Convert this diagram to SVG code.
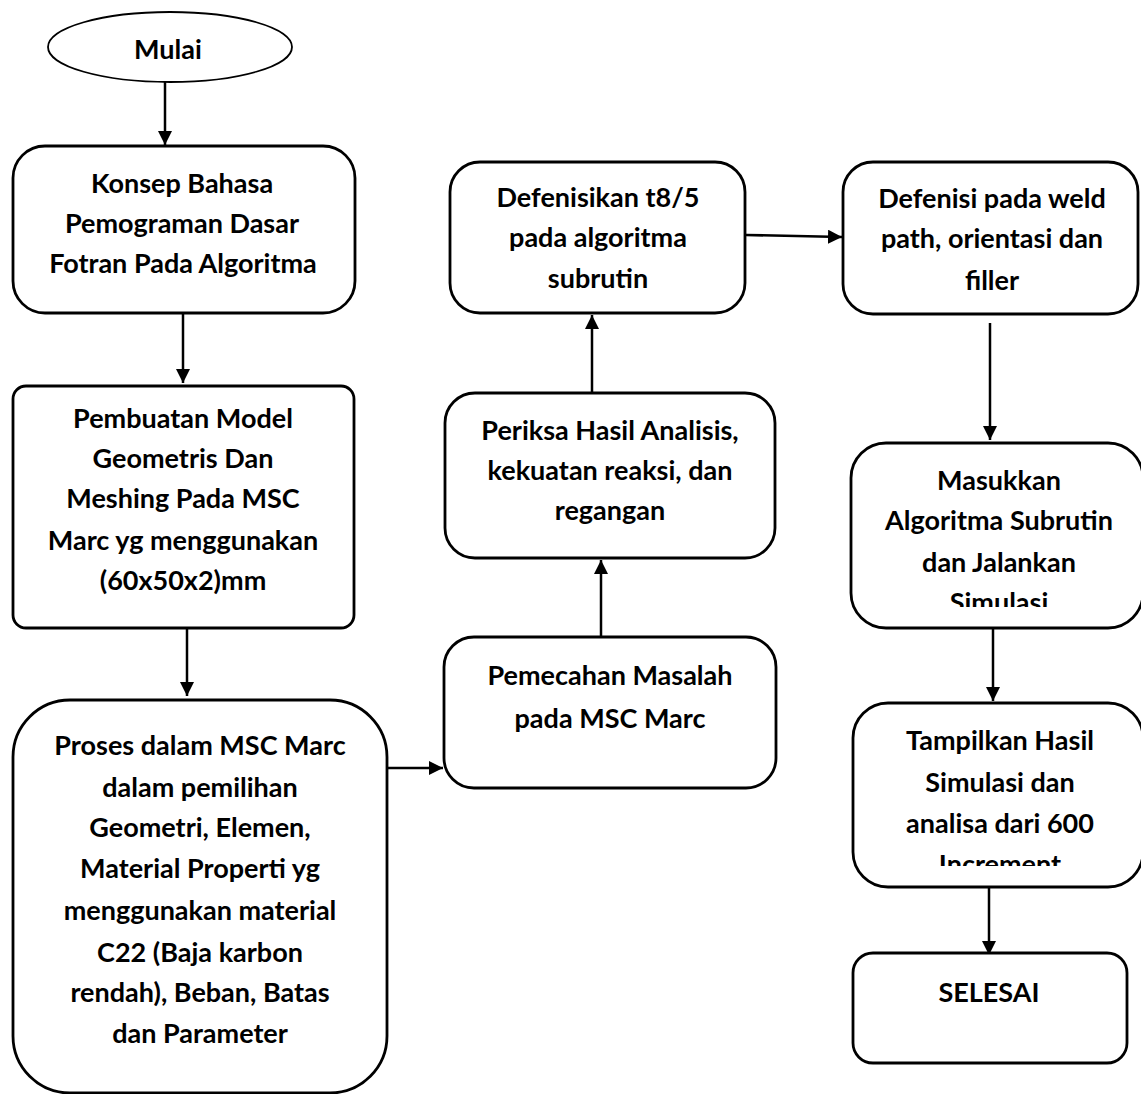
<svg xmlns="http://www.w3.org/2000/svg" width="1141" height="1094" viewBox="0 0 1141 1094">
<style>
.box{fill:#fff;stroke:#000;stroke-width:2.8}
.t{font-family:"Lato","Open Sans",sans-serif;font-weight:bold;font-size:27px;text-anchor:middle;fill:#000}
.c{stroke:#000;stroke-width:2.5;fill:none}
</style>
<defs>
<marker id="ah" viewBox="0 0 14 14" refX="14" refY="7" markerWidth="14" markerHeight="14" markerUnits="userSpaceOnUse" orient="auto">
<path d="M0,0 L14,7 L0,14 Z" fill="#000"/>
</marker>
<clipPath id="clip8"><rect x="851" y="443" width="290" height="164"/></clipPath>
<clipPath id="clip9"><rect x="853" y="703" width="288" height="163"/></clipPath>
</defs>
<rect width="1141" height="1094" fill="#fff"/>
<g id="connectors">
<line class="c" x1="165" y1="82" x2="165" y2="145" marker-end="url(#ah)"/>
<line class="c" x1="183" y1="313" x2="183" y2="383" marker-end="url(#ah)"/>
<line class="c" x1="187" y1="628" x2="187" y2="696" marker-end="url(#ah)"/>
<line class="c" x1="387" y1="768" x2="443" y2="768" marker-end="url(#ah)"/>
<line class="c" x1="601" y1="637" x2="601" y2="560" marker-end="url(#ah)"/>
<line class="c" x1="592" y1="393" x2="592" y2="315" marker-end="url(#ah)"/>
<line class="c" x1="746" y1="235" x2="842" y2="237" marker-end="url(#ah)"/>
<line class="c" x1="990" y1="323" x2="990" y2="440" marker-end="url(#ah)"/>
<line class="c" x1="993" y1="628" x2="993" y2="701" marker-end="url(#ah)"/>
<line class="c" x1="989" y1="887" x2="989" y2="955" marker-end="url(#ah)"/>
</g>
<g id="mulai">
<ellipse class="box" cx="170" cy="47" rx="122" ry="35" style="stroke-width:1.8"/>
<text class="t" x="168" y="59">Mulai</text>
</g>
<g id="konsep">
<rect class="box" x="13" y="146" width="342" height="167" rx="32"/>
<text class="t" x="182" y="193">Konsep Bahasa</text>
<text class="t" x="182" y="233">Pemograman Dasar</text>
<text class="t" x="183" y="273">Fotran Pada Algoritma</text>
</g>
<g id="pembuatan">
<rect class="box" x="13" y="386" width="341" height="242" rx="13"/>
<text class="t" x="183" y="428">Pembuatan Model</text>
<text class="t" x="183" y="468">Geometris Dan</text>
<text class="t" x="183" y="508">Meshing Pada MSC</text>
<text class="t" x="183" y="550">Marc yg menggunakan</text>
<text class="t" x="183" y="590">(60x50x2)mm</text>
</g>
<g id="proses">
<rect class="box" x="13" y="700" width="374" height="393" rx="57"/>
<text class="t" x="200" y="755">Proses dalam MSC Marc</text>
<text class="t" x="200" y="797">dalam pemilihan</text>
<text class="t" x="200" y="837">Geometri, Elemen,</text>
<text class="t" x="200" y="878">Material Properti yg</text>
<text class="t" x="200" y="920">menggunakan material</text>
<text class="t" x="200" y="962">C22 (Baja karbon</text>
<text class="t" x="200" y="1002">rendah), Beban, Batas</text>
<text class="t" x="200" y="1043">dan Parameter</text>
</g>
<g id="pemecahan">
<rect class="box" x="444" y="637" width="332" height="151" rx="30"/>
<text class="t" x="610" y="685">Pemecahan Masalah</text>
<text class="t" x="610" y="728">pada MSC Marc</text>
</g>
<g id="periksa">
<rect class="box" x="445" y="393" width="330" height="165" rx="30"/>
<text class="t" x="610" y="440">Periksa Hasil Analisis,</text>
<text class="t" x="610" y="480">kekuatan reaksi, dan</text>
<text class="t" x="610" y="520">regangan</text>
</g>
<g id="defenisikan">
<rect class="box" x="450" y="162" width="295" height="151" rx="30"/>
<text class="t" x="598" y="207">Defenisikan t8/5</text>
<text class="t" x="598" y="247">pada algoritma</text>
<text class="t" x="598" y="288">subrutin</text>
</g>
<g id="defenisi">
<rect class="box" x="843" y="162" width="295" height="152" rx="30"/>
<text class="t" x="992" y="208">Defenisi pada weld</text>
<text class="t" x="992" y="248">path, orientasi dan</text>
<text class="t" x="992" y="290">filler</text>
</g>
<g id="masukkan">
<rect class="box" x="851" y="443" width="292" height="185" rx="35"/>
<g clip-path="url(#clip8)">
<text class="t" x="999" y="490">Masukkan</text>
<text class="t" x="999" y="530">Algoritma Subrutin</text>
<text class="t" x="999" y="572">dan Jalankan</text>
<text class="t" x="999" y="612">Simulasi</text>
</g>
</g>
<g id="tampilkan">
<rect class="box" x="853" y="703" width="290" height="184" rx="35"/>
<g clip-path="url(#clip9)">
<text class="t" x="1000" y="750">Tampilkan Hasil</text>
<text class="t" x="1000" y="792">Simulasi dan</text>
<text class="t" x="1000" y="833">analisa dari 600</text>
<text class="t" x="1000" y="874">Increment</text>
</g>
</g>
<g id="selesai">
<rect class="box" x="853" y="953" width="274" height="110" rx="20"/>
<text class="t" x="989" y="1002">SELESAI</text>
</g>
</svg>
